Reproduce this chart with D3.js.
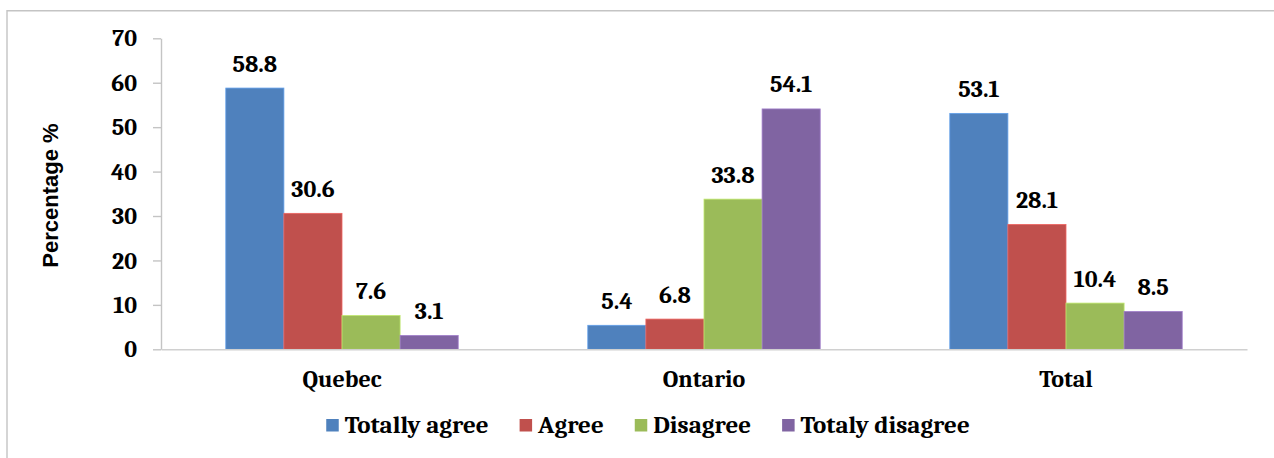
<!DOCTYPE html>
<html>
<head>
<meta charset="utf-8">
<script src="https://cdn.jsdelivr.net/npm/d3@7"></script>
<style>
  html, body { margin: 0; padding: 0; background: #fff; }
  svg { display: block; }
</style>
</head>
<body>
<svg id="chart" width="1274" height="458"></svg>
<script>
// Survey answers by province (percent of respondents)
const categories = ["Quebec", "Ontario", "Total"];
const seriesNames = ["Totally agree", "Agree", "Disagree", "Totaly disagree"];
const totallyAgree = [58.8, 5.4, 53.1];
const agree = [30.6, 6.8, 28.1];
const disagree = [7.6, 33.8, 10.4];
const totalyDisagree = [3.1, 54.1, 8.5];
const yTicks = [0, 10, 20, 30, 40, 50, 60, 70];
const colors = ["#4F81BD", "#C0504D", "#9BBB59", "#8064A2"];

const seriesValues = [totallyAgree, agree, disagree, totalyDisagree];
const rows = categories.map((c, i) => ({
  category: c,
  values: seriesNames.map((s, k) => ({ series: s, idx: k, value: seriesValues[k][i] }))
}));

const serif = "Cambria, Caladea, 'DejaVu Serif', serif";
const labelSize = 24;
const svg = d3.select("#chart");

// outer frame
svg.append("path")
  .attr("d", "M7,470 L7,10.7 L1290,10.7")
  .attr("fill", "none")
  .attr("stroke", "#c4c4c4")
  .attr("stroke-width", 1.4);

const plot = { left: 161, right: 1247, top: 38.3, bottom: 349.3 };

const y = d3.scaleLinear().domain([0, 70]).range([plot.bottom, plot.top]);
const x0 = d3.scaleBand().domain(categories).range([plot.left, plot.right]).padding(0);
const groupGap = x0.bandwidth() * 0.179;
const x1 = d3.scaleBand().domain(seriesNames)
  .range([groupGap, x0.bandwidth() - groupGap]).padding(0);

// y axis
const yAxis = svg.append("g")
  .attr("transform", `translate(${plot.left},0)`)
  .call(d3.axisLeft(y).tickValues(yTicks).tickSize(8).tickPadding(16).tickSizeOuter(0));
yAxis.select(".domain").attr("stroke", "#c4c4c4").attr("stroke-width", 1.4);
yAxis.selectAll(".tick line").attr("stroke", "#c4c4c4").attr("stroke-width", 1.4);
yAxis.selectAll(".tick text")
  .attr("fill", "#000")
  .attr("font-family", serif)
  .attr("font-weight", "bold")
  .attr("font-size", labelSize)
  .attr("dy", "0.32em");

// bars
const groups = svg.append("g").selectAll("g")
  .data(rows)
  .join("g")
  .attr("transform", d => `translate(${x0(d.category)},0)`);

groups.selectAll("rect")
  .data(d => d.values)
  .join("rect")
  .attr("x", d => x1(d.series))
  .attr("width", x1.bandwidth())
  .attr("y", d => y(d.value))
  .attr("height", d => y(0) - y(d.value))
  .attr("fill", d => colors[d.idx])
  .attr("stroke", d => d3.color(colors[d.idx]).brighter(0.6))
  .attr("stroke-width", 0.8);

// value labels
groups.selectAll("text")
  .data(d => d.values)
  .join("text")
  .attr("x", d => x1(d.series) + x1.bandwidth() / 2)
  .attr("y", d => y(d.value) - 16.5)
  .attr("text-anchor", "middle")
  .attr("font-family", serif)
  .attr("font-weight", "bold")
  .attr("font-size", labelSize)
  .attr("fill", "#000")
  .text(d => d.value.toFixed(1));

// x axis baseline
const xAxis = svg.append("g")
  .attr("transform", `translate(0,${plot.bottom})`)
  .call(d3.axisBottom(x0).tickSize(0).tickPadding(37.7).tickSizeOuter(0));
xAxis.select(".domain").attr("stroke", "#d0d0d0").attr("stroke-width", 1.6);
xAxis.selectAll(".tick text")
  .attr("fill", "#000")
  .attr("font-family", serif)
  .attr("font-weight", "bold")
  .attr("font-size", labelSize)
  .attr("dy", "0");

// y axis title
svg.append("text")
  .attr("transform", "translate(57.5,195.5) rotate(-90)")
  .attr("text-anchor", "middle")
  .attr("font-family", "'Liberation Sans', Arial, sans-serif")
  .attr("font-weight", "bold")
  .attr("font-size", 22)
  .attr("fill", "#000")
  .text("Percentage %");

// legend
const legend = svg.append("g");
const items = legend.selectAll("g")
  .data(seriesNames)
  .join("g");
items.append("rect")
  .attr("width", 12.5)
  .attr("height", 12.5)
  .attr("y", 419)
  .attr("fill", (d, i) => colors[i]);
items.append("text")
  .attr("x", 18.5)
  .attr("y", 433)
  .attr("font-family", serif)
  .attr("font-weight", "bold")
  .attr("font-size", 25)
  .attr("fill", "#000")
  .text(d => d);

let cursor = 0;
items.each(function () {
  const g = d3.select(this);
  g.attr("transform", `translate(${cursor},0)`);
  const w = g.select("text").node().getComputedTextLength();
  cursor += 18.5 + w + 31;
});
const legendWidth = cursor - 31;
legend.attr("transform", `translate(${648 - legendWidth / 2},0)`);
</script>
</body>
</html>
